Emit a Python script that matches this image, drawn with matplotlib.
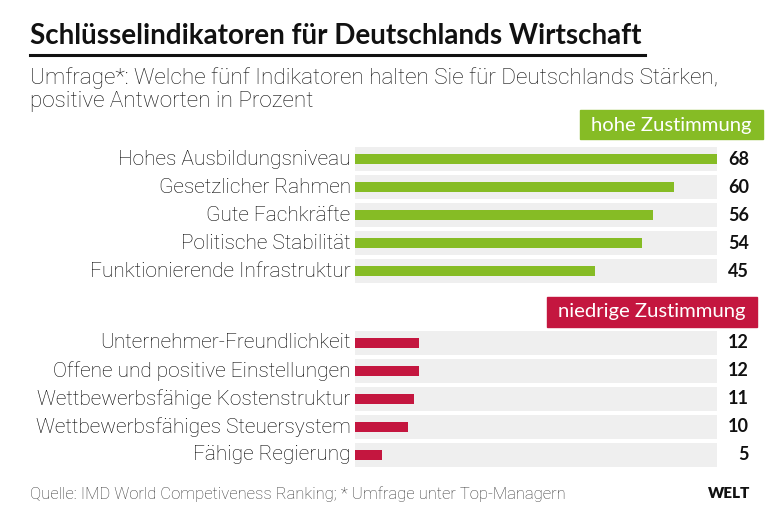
import matplotlib
matplotlib.use("Agg")
import matplotlib.pyplot as plt
from matplotlib.patches import Rectangle
from matplotlib.lines import Line2D

high_labels = ["Hohes Ausbildungsniveau", "Gesetzlicher Rahmen", "Gute Fachkräfte",
               "Politische Stabilität", "Funktionierende Infrastruktur"]
high_values = [68, 60, 56, 54, 45]
low_labels = ["Unternehmer-Freundlichkeit", "Offene und positive Einstellungen",
              "Wettbewerbsfähige Kostenstruktur", "Wettbewerbsfähiges Steuersystem",
              "Fähige Regierung"]
low_values = [12, 12, 11, 10, 5]

GREEN = "#86bc25"
RED = "#c4163f"
BAND = "#efefef"
W, H = 780, 520
XMAX = 68
LIGHT = "Roboto"

fig = plt.figure(figsize=(7.8, 5.2), dpi=100)
fig.patch.set_facecolor("white")

def fx(px): return px / W
def fy(py): return 1 - py / H

def panel(top_px, labels, values, color):
    n = len(labels)
    ax = fig.add_axes([fx(355), fy(top_px + 28 * n), fx(717) - fx(355), 28 * n / H])
    ys = list(range(n))
    ax.barh(ys, [XMAX] * n, height=0.86, color=BAND, left=0)
    ax.barh(ys, values, height=0.36, color=color, left=0)
    ax.set_xlim(0, XMAX)
    ax.set_ylim(n - 0.5, -0.5)
    ax.axis("off")
    for y, lab, v in zip(ys, labels, values):
        ax.text(-0.8, y, lab, ha="right", va="center", fontsize=15,
                family=LIGHT, color="#000000", fontweight="light")
        ax.text(XMAX + 6, y, str(v), ha="right", va="center", fontsize=13,
                family="Lato", fontweight="bold", color="#111111")
    return ax

ax1 = panel(145, high_labels, high_values, GREEN)
ax2 = panel(329, low_labels, low_values, RED)

# Title
fig.text(fx(30), fy(36), "Schlüsselindikatoren für Deutschlands Wirtschaft",
         fontsize=20, fontweight="bold", family="Lato", color="#111111", va="center")
fig.add_artist(Line2D([fx(30), fx(645)], [fy(55), fy(55)], color="#111111", lw=2.2))
fig.text(fx(30), fy(78), "Umfrage*: Welche fünf Indikatoren halten Sie für Deutschlands Stärken,",
         fontsize=16.2, family=LIGHT, fontweight="light", color="#111111", va="center")
fig.text(fx(30), fy(101), "positive Antworten in Prozent",
         fontsize=16.2, family=LIGHT, fontweight="light", color="#111111", va="center")

# Legend boxes
fig.add_artist(Rectangle((fx(580), fy(139)), fx(763) - fx(580), (139 - 110) / H,
                         color=GREEN, transform=fig.transFigure))
fig.text((fx(580) + fx(763)) / 2, fy(125), "hohe Zustimmung", ha="center", va="center",
         fontsize=14.6, family="Lato", color="white")
fig.add_artist(Rectangle((fx(547), fy(327)), fx(757) - fx(547), (327 - 297) / H,
                         color=RED, transform=fig.transFigure))
fig.text((fx(547) + fx(757)) / 2, fy(312), "niedrige Zustimmung", ha="center", va="center",
         fontsize=14.6, family="Lato", color="white")

# Footer
fig.text(fx(30), fy(494), "Quelle: IMD World Competiveness Ranking; * Umfrage unter Top-Managern",
         fontsize=12, family=LIGHT, fontweight="light", color="#333333", va="center")
fig.text(fx(750), fy(494), "WELT", ha="right", va="center", fontsize=11,
         family="Lato", fontweight="heavy", color="#111111")

fig.savefig("out.png", dpi=100, facecolor="white")
